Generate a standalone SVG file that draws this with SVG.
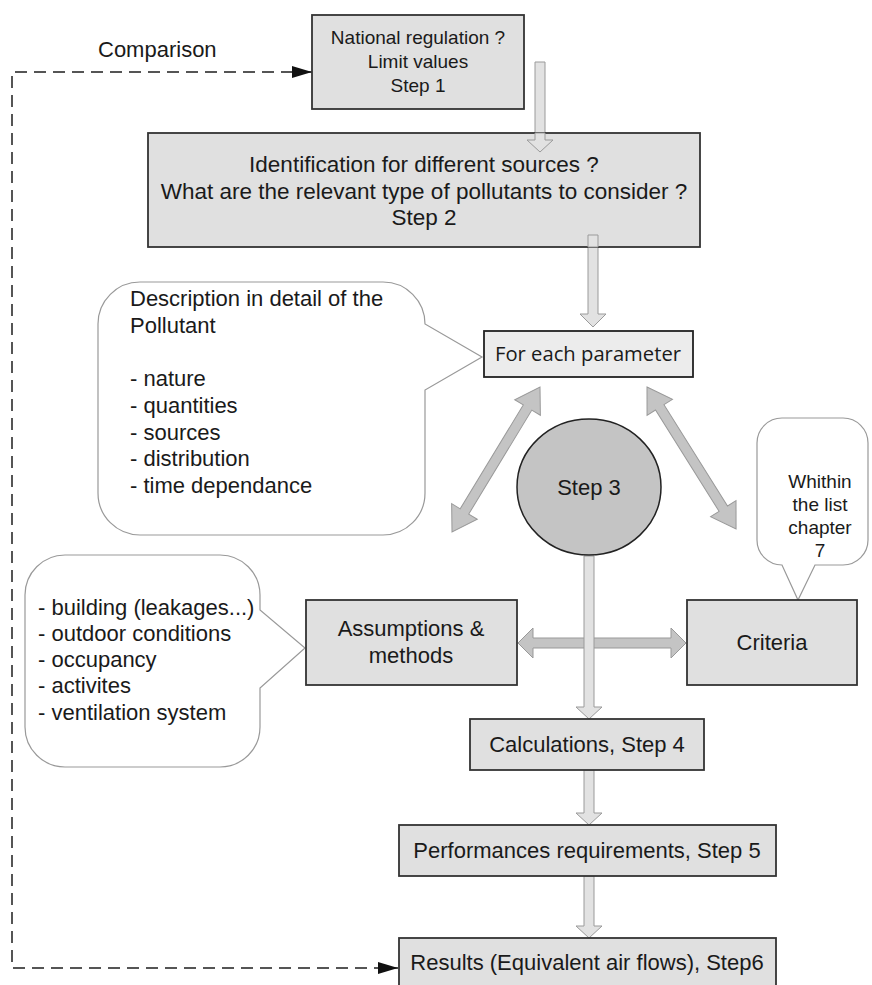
<svg xmlns="http://www.w3.org/2000/svg" width="872" height="985" viewBox="0 0 872 985">
  <style>
    text { font-family: "Liberation Sans", Arial, sans-serif; fill: #1a1a1a; }
    .box { fill: #e0e0e0; stroke: #333; stroke-width: 1.8; }
    .note { fill: #ffffff; stroke: #999; stroke-width: 1.2; }
    .flow { fill: #e2e2e2; stroke: #9a9a9a; stroke-width: 1; }
    .link { fill: #c4c4c4; stroke: #999; stroke-width: 1; }
    .dash { fill: none; stroke: #555; stroke-width: 2; stroke-dasharray: 12 7; }
    .c { text-anchor: middle; }
    .t22 { font-size: 22px; }
  </style>
  <defs>
    <marker id="tri" viewBox="0 0 20 12" refX="20" refY="6" markerWidth="20" markerHeight="12" markerUnits="userSpaceOnUse" orient="auto-start-reverse">
      <path d="M0 0 L20 6 L0 12 Z" fill="#111"/>
    </marker>
  </defs>

  <!-- connectors -->
  <g id="connectors">
    <path class="dash" d="M 312 72 H 12 V 968 H 398" marker-start="url(#tri)" marker-end="url(#tri)"/>
    <text x="98" y="57" class="t22">Comparison</text>
    <!-- step 1 -> step 2 -->
    <polygon class="flow" points="535,62 545,62 545,140 553,140 540,152 527,140 535,140"/>
    <!-- step 2 -> parameter -->
    <polygon class="flow" points="588,235 598,235 598,314 606,314 593,327 580,314 588,314"/>
    <!-- parameter <-> assumptions -->
    <polygon class="link" transform="translate(540,387) rotate(121.25)" points="0,0 24,-15 24,-5 145.6,-5 145.6,-15 169.6,0 145.6,15 145.6,5 24,5 24,15"/>
    <!-- parameter <-> criteria -->
    <polygon class="link" transform="translate(647,387) rotate(57.9)" points="0,0 24,-15 24,-5 143.6,-5 143.6,-15 167.6,0 143.6,15 143.6,5 24,5 24,15"/>
    <!-- assumptions <-> criteria -->
    <polygon class="link" points="518,643 533,628 533,638 671,638 671,628 686,643 671,658 671,648 533,648 533,658"/>
    <!-- step 3 -> step 4 -> step 5 -> step 6 -->
    <polygon class="flow" points="584,556 594,556 594,707 602,707 589,719 576,707 584,707"/>
    <polygon class="flow" points="584,770 594,770 594,813 602,813 589,825 576,813 584,813"/>
    <polygon class="flow" points="584,876 594,876 594,926 602,926 589,938 576,926 584,926"/>
  </g>

  <g id="step1">
    <rect class="box" x="312" y="15" width="212" height="94"/>
    <text class="c" x="418" y="44" font-size="19">National regulation ?</text>
    <text class="c" x="418" y="68" font-size="19">Limit values</text>
    <text class="c" x="418" y="92" font-size="19">Step 1</text>
  </g>

  <g id="step2">
    <rect class="box" x="148" y="133" width="552" height="114"/>
    <text class="c" x="424" y="172" font-size="22.5">Identification for different sources ?</text>
    <text class="c" x="424" y="199" font-size="22.5">What are the relevant type of pollutants to consider ?</text>
    <text class="c" x="424" y="225" font-size="22.5">Step 2</text>
  </g>
  <!-- arrow ends that sit over box 2 -->
  <g id="step2-arrows">
    <polygon class="flow" points="535,133 545,133 545,140 553,140 540,152 527,140 535,140"/>
    <polygon class="flow" points="588,235 598,235 598,247 588,247"/>
  </g>

  <g id="pollutant-note">
    <path class="note" d="M 140 282 H 383 A 42 42 0 0 1 425 324 L 482 357 L 425 390 V 493 A 42 42 0 0 1 383 535 H 140 A 42 42 0 0 1 98 493 V 324 A 42 42 0 0 1 140 282 Z"/>
    <text x="130" y="306" class="t22">Description in detail of the</text>
    <text x="130" y="333" class="t22">Pollutant</text>
    <text x="130" y="386" class="t22">- nature</text>
    <text x="130" y="413" class="t22">- quantities</text>
    <text x="130" y="440" class="t22">- sources</text>
    <text x="130" y="466" class="t22">- distribution</text>
    <text x="130" y="493" class="t22">- time dependance</text>
  </g>

  <g id="parameter">
    <rect x="484" y="331" width="209" height="46" fill="#ececec" stroke="#222" stroke-width="1.8"/>
    <text class="c" x="588" y="361" font-size="20" textLength="186" lengthAdjust="spacingAndGlyphs" style="font-family: 'Open Sans', 'Noto Sans', sans-serif">For each parameter</text>
  </g>

  <g id="step3">
    <ellipse cx="589" cy="487" rx="72" ry="68" fill="#c4c4c4" stroke="#222" stroke-width="1.5"/>
    <text class="c t22" x="589" y="495">Step 3</text>
  </g>

  <g id="criteria-note">
    <path class="note" d="M 782 418 H 843 A 25 25 0 0 1 868 443 V 540 A 25 25 0 0 1 843 565 H 815 L 798 600 L 782 565 A 25 25 0 0 1 757 540 V 443 A 25 25 0 0 1 782 418 Z"/>
    <text class="c" x="820" y="488" font-size="19">Whithin</text>
    <text class="c" x="820" y="511" font-size="19">the list</text>
    <text class="c" x="820" y="534" font-size="19">chapter</text>
    <text class="c" x="820" y="557" font-size="19">7</text>
  </g>

  <g id="inputs-note">
    <path class="note" d="M 65 555 H 220 A 40 40 0 0 1 260 595 V 610 L 305 648 L 260 688 V 727 A 40 40 0 0 1 220 767 H 65 A 40 40 0 0 1 25 727 V 595 A 40 40 0 0 1 65 555 Z"/>
    <text x="38" y="615" class="t22">- building (leakages...)</text>
    <text x="38" y="641" class="t22">- outdoor conditions</text>
    <text x="38" y="667" class="t22">- occupancy</text>
    <text x="38" y="693" class="t22">- activites</text>
    <text x="38" y="720" class="t22">- ventilation system</text>
  </g>

  <g id="assumptions">
    <rect class="box" x="306" y="600" width="211" height="85"/>
    <text class="c t22" x="411" y="636">Assumptions &amp;</text>
    <text class="c t22" x="411" y="663">methods</text>
  </g>

  <g id="criteria">
    <rect class="box" x="687" y="600" width="170" height="85"/>
    <text class="c t22" x="772" y="650">Criteria</text>
  </g>

  <g id="step4">
    <rect class="box" x="470" y="719" width="234" height="51"/>
    <text class="c t22" x="587" y="752">Calculations, Step 4</text>
  </g>

  <g id="step5">
    <rect class="box" x="399" y="825" width="377" height="51"/>
    <text class="c t22" x="587" y="858">Performances requirements, Step 5</text>
  </g>

  <g id="step6">
    <rect class="box" x="399" y="938" width="377" height="60"/>
    <text class="c t22" x="587" y="970">Results (Equivalent air flows), Step6</text>
  </g>
</svg>
